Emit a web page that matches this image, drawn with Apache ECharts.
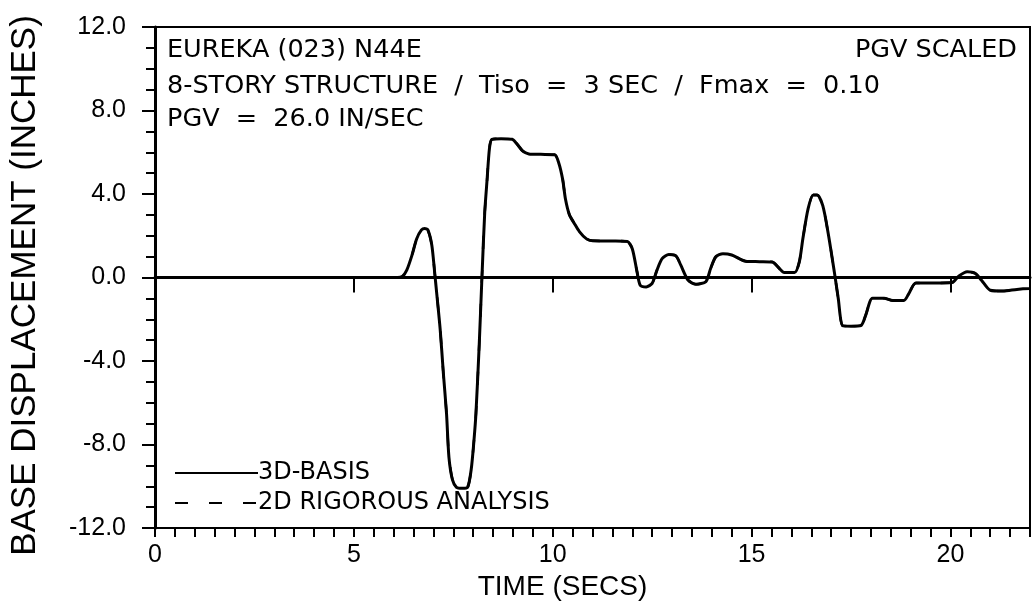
<!DOCTYPE html>
<html>
<head>
<meta charset="utf-8">
<title>Base displacement — Eureka (023) N44E</title>
<script src="https://cdn.jsdelivr.net/npm/echarts@6/dist/echarts.min.js"></script>
<style>
  html, body { margin: 0; padding: 0; background: #fff; }
  #chart { width: 1034px; height: 609px; }
</style>
</head>
<body>
<div id="chart"></div>
<script>
// Time axis samples (s) and base displacement (in) of the 8-story isolated structure
const timeSec = [
  0, 6.1, 6.22, 6.33, 6.46, 6.58, 6.7, 6.78, 6.86, 6.96,
  7.03, 7.08, 7.17, 7.25, 7.33, 7.39, 7.48, 7.58, 7.72, 7.86,
  7.95, 8.02, 8.07, 8.15, 8.22, 8.29, 8.35, 8.41, 8.47, 8.7,
  8.98, 9.1, 9.25, 9.4, 9.7, 10.05, 10.15, 10.25, 10.32, 10.42,
  10.54, 10.67, 10.85, 11.0, 11.5, 11.87, 12.0, 12.12, 12.2, 12.35,
  12.5, 12.62, 12.75, 12.92, 13.1, 13.22, 13.4, 13.6, 13.85, 13.97,
  14.1, 14.28, 14.5, 14.85, 15.2, 15.52, 15.7, 15.82, 16.08, 16.2,
  16.29, 16.42, 16.55, 16.65, 16.79, 16.92, 17.08, 17.18, 17.29, 17.5,
  17.75, 17.87, 18.04, 18.33, 18.55, 18.83, 18.95, 19.13, 19.6, 20.04,
  20.2, 20.42, 20.62, 20.78, 21.0, 21.33, 21.67, 22.0
];
const basis3D = [
  0, 0, 0.05, 0.35, 1.06, 1.86, 2.28, 2.35, 2.28, 1.55,
  0.27, -0.7, -2.48, -4.58, -6.52, -8.6, -9.7, -10.05, -10.1, -10.05,
  -9.2, -7.8, -6.5, -3.3, 0, 3.1, 4.7, 6.2, 6.62, 6.65,
  6.62, 6.4, 6.05, 5.92, 5.9, 5.88, 5.5, 4.7, 3.76, 3.0,
  2.6, 2.2, 1.85, 1.76, 1.75, 1.73, 1.38, 0.27, -0.37, -0.45,
  -0.28, 0.35, 0.9, 1.1, 1.03, 0.59, -0.12, -0.32, -0.2, 0.43,
  0.99, 1.14, 1.08, 0.78, 0.76, 0.74, 0.43, 0.24, 0.24, 0.75,
  1.87, 3.29, 3.95, 3.95, 3.44, 2.18, 0.27, -1.02, -2.31, -2.33,
  -2.3, -1.8, -0.99, -0.99, -1.1, -1.1, -0.78, -0.26, -0.26, -0.24,
  0.05, 0.27, 0.2, -0.13, -0.61, -0.65, -0.57, -0.53
];
// The 2D rigorous analysis trace coincides with the 3D-BASIS trace
const rigorous2D = basis3D.slice();

const timeLabels = [0, 5, 10, 15, 20];
const seriesNames = ['3D-BASIS', '2D RIGOROUS ANALYSIS'];
const headerLines = [
  'EUREKA (023) N44E',
  '8-STORY STRUCTURE  /  Tiso  =  3 SEC  /  Fmax  =  0.10',
  'PGV  =  26.0 IN/SEC'
];
const cornerNote = 'PGV SCALED';

const toPairs = (xs, ys) => xs.map((x, i) => [x, ys[i]]);

const plotFont = 'DejaVu Sans, Liberation Sans, sans-serif';
const axisFont = 'Liberation Sans, Arial, sans-serif';
const headerStyle = { fontFamily: plotFont, fontSize: 25.5, fontWeight: 'normal', color: '#000' };

const chart = echarts.init(document.getElementById('chart'), null, { renderer: 'canvas' });

chart.setOption({
  animation: false,
  backgroundColor: '#ffffff',
  grid: {
    left: 150, right: 4, top: 27, bottom: 81,
    show: true, borderColor: '#000', borderWidth: 2, backgroundColor: 'transparent'
  },
  title: [
    { text: headerLines[0], left: 162, top: 32, textStyle: headerStyle },
    { text: headerLines[1], left: 162, top: 68, textStyle: headerStyle },
    { text: headerLines[2], left: 162, top: 101, textStyle: headerStyle },
    { text: cornerNote, right: 12, top: 32, textStyle: headerStyle }
  ],
  legend: {
    data: seriesNames,
    orient: 'vertical',
    left: 174,
    top: 461,
    itemWidth: 83,
    itemHeight: 14,
    itemGap: 6,
    padding: 0,
    selectedMode: false,
    itemStyle: { color: 'rgba(0,0,0,0)', borderWidth: 0, opacity: 0 },
    textStyle: { fontFamily: plotFont, fontSize: 24, color: '#000', padding: [0, 0, 0, -5], lineHeight: 24 }
  },
  xAxis: [
    {
      type: 'value', min: 0, max: 22, position: 'bottom',
      name: 'TIME (SECS)', nameLocation: 'middle', nameGap: 36,
      nameTextStyle: { fontFamily: axisFont, fontSize: 28, color: '#000', padding: [0, 60, 0, 0] },
      axisLine: { show: true, lineStyle: { color: '#000', width: 3 } },
      axisTick: { show: true, customValues: timeLabels, length: 15, lineStyle: { color: '#000', width: 2 } },
      axisLabel: { customValues: timeLabels, margin: 15, fontFamily: axisFont, fontSize: 25, color: '#000' },
      splitLine: { show: false }
    },
    {
      // half-second minor ticks
      type: 'value', min: 0, max: 22, interval: 0.5, position: 'bottom',
      axisLine: { show: false },
      axisTick: { show: true, length: 9, lineStyle: { color: '#000', width: 2 } },
      axisLabel: { show: false },
      splitLine: { show: false }
    }
  ],
  yAxis: {
    type: 'value', min: -12, max: 12, interval: 4,
    name: 'BASE DISPLACEMENT (INCHES)', nameLocation: 'middle', nameGap: 112, nameRotate: 90,
    nameTextStyle: { fontFamily: axisFont, fontSize: 35, color: '#000', padding: [0, 16, 0, 0] },
    axisLine: { show: true, lineStyle: { color: '#000', width: 3 } },
    axisTick: { show: true, length: 13, lineStyle: { color: '#000', width: 2 } },
    minorTick: { show: true, splitNumber: 4, length: 9, lineStyle: { color: '#000', width: 2 } },
    axisLabel: {
      margin: 29, fontFamily: axisFont, fontSize: 25, color: '#000',
      formatter: v => v.toFixed(1)
    },
    splitLine: { show: false }
  },
  series: [
    {
      name: seriesNames[1], type: 'line', xAxisIndex: 0,
      data: toPairs(timeSec, rigorous2D),
      showSymbol: false, symbol: 'none', smooth: 0.25, z: 2,
      lineStyle: { color: '#000', width: 2.5, type: [13, 21] },
      itemStyle: { color: '#000' }
    },
    {
      name: seriesNames[0], type: 'line', xAxisIndex: 0,
      data: toPairs(timeSec, basis3D),
      showSymbol: false, symbol: 'none', smooth: 0.25, z: 3,
      lineStyle: { color: '#000', width: 3 },
      itemStyle: { color: '#000' },
      markLine: {
        silent: true, symbol: 'none', animation: false,
        label: { show: false },
        lineStyle: { color: '#000', width: 2, type: 'solid' },
        data: [{ yAxis: 0 }]
      }
    }
  ]
});
</script>
</body>
</html>
